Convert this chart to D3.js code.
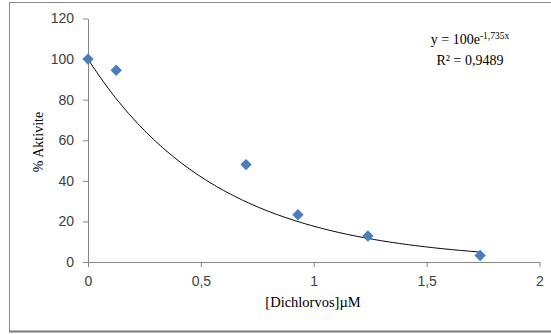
<!DOCTYPE html>
<html><head><meta charset="utf-8">
<script src="https://cdn.jsdelivr.net/npm/d3@7"></script>
<style>body{margin:0;background:#fff}svg{display:block}
.serif{font-family:"Liberation Serif","Times New Roman",serif}
.sans{font-family:"Liberation Sans",Arial,sans-serif}</style>
</head><body>
<svg id="c" width="551" height="334"></svg>
<script>
const xValues = [0, 0.125, 0.70, 0.93, 1.24, 1.737];
const yValues = [100, 94.5, 48, 23.3, 12.8, 3.2];
const xTicks = [0, 0.5, 1, 1.5, 2];
const yTicks = [0, 20, 40, 60, 80, 100, 120];
const fitA = 100, fitK = 1.735;
const eqLine1 = "y = 100e", eqExp = "-1,735x", eqLine2 = "R² = 0,9489";
const xTitle = "[Dichlorvos]µM", yTitle = "% Aktivite";

const svg = d3.select("#c");
svg.append("rect").attr("x",9.5).attr("y",2.5).attr("width",560).attr("height",329)
  .attr("fill","#fff").attr("stroke","#8a8a8a").attr("stroke-width",1);
svg.append("line").attr("x1",9).attr("x2",551).attr("y1",331.5).attr("y2",331.5).attr("stroke","#7a7a7a").attr("stroke-width",2);

const x = d3.scaleLinear().domain([0,2]).range([88,539.5]);
const y = d3.scaleLinear().domain([0,120]).range([262,18.5]);
const fmt = d => String(d).replace(".", ",");

const gx = svg.append("g").attr("transform","translate(0,262)")
  .call(d3.axisBottom(x).tickValues(xTicks).tickFormat(fmt).tickSize(5).tickSizeOuter(0));
const gy = svg.append("g").attr("transform","translate(88,0)")
  .call(d3.axisLeft(y).tickValues(yTicks).tickSize(5).tickSizeOuter(0));
[gx,gy].forEach(g=>{
  g.attr("font-family",null).attr("font-size",null);
  g.selectAll("path,line").attr("stroke","#868686");
  g.selectAll("text").attr("class","sans").style("font-size","14px").attr("fill","#404040");
});
gx.selectAll("text").attr("dy","1.15em");
gy.selectAll("text").attr("x",-14);

// trendline
const curve = d3.range(0, 1.7371, 0.01).map(v=>[v, fitA*Math.exp(-fitK*v)]);
svg.append("path").datum(curve)
  .attr("d", d3.line().x(d=>x(d[0])).y(d=>y(d[1])))
  .attr("fill","none").attr("stroke","#000").attr("stroke-width",1);

// markers
svg.append("g").selectAll("path").data(xValues.map((v,i)=>[v,yValues[i]])).join("path")
  .attr("d", d3.symbol().type(d3.symbolSquare).size(64)())
  .attr("transform", d=>`translate(${x(d[0])},${y(d[1])}) rotate(45)`)
  .attr("fill","#4a7ebb");

// titles
svg.append("text").attr("class","serif").attr("x",313).attr("y",307).attr("text-anchor","middle")
  .style("font-size","14.5px").text(xTitle);
svg.append("text").attr("class","serif").attr("transform","translate(43,142) rotate(-90)").attr("text-anchor","middle")
  .style("font-size","14px").text(yTitle);

// equation
const eq = svg.append("text").attr("class","serif").attr("x",470).attr("y",44).attr("text-anchor","middle")
  .style("font-size","14px");
eq.append("tspan").text(eqLine1);
eq.append("tspan").attr("dy",-5).style("font-size","9.5px").text(eqExp);
svg.append("text").attr("class","serif").attr("x",470).attr("y",65).attr("text-anchor","middle")
  .style("font-size","14px").text(eqLine2);
</script>
</body></html>
